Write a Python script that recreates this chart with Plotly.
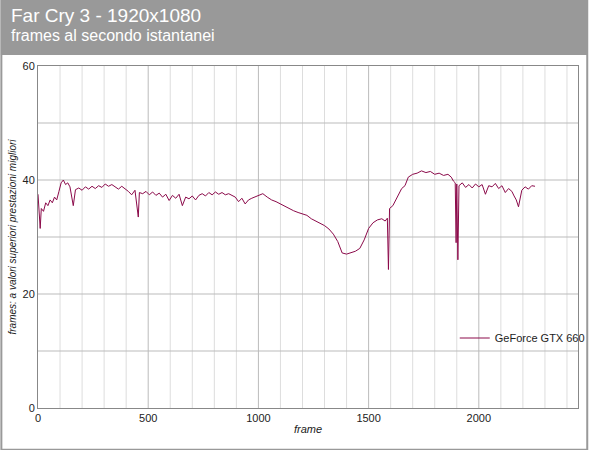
import plotly.graph_objects as go

frames = [0,5,10,15,25,35,45,55,65,75,85,95,105,115,125,135,145,160,170,185,200,215,230,245,260,275,290,305,320,335,350,365,380,395,410,425,440,455,460,475,490,505,520,535,550,565,580,595,610,625,640,655,670,685,700,715,730,745,760,775,790,805,820,835,850,865,880,895,910,925,940,955,970,985,1000,1020,1040,1060,1080,1100,1120,1140,1160,1180,1200,1220,1240,1260,1280,1300,1320,1340,1360,1370,1380,1400,1420,1440,1460,1480,1500,1520,1540,1560,1575,1585,1590,1595,1610,1630,1650,1665,1680,1700,1720,1740,1760,1780,1800,1820,1840,1860,1875,1885,1893,1897,1900,1905,1910,1925,1940,1955,1970,1985,2000,2015,2030,2045,2060,2075,2090,2105,2120,2135,2150,2160,2170,2180,2195,2210,2225,2240,2255]
fps = [37.5,34,31.5,35,34.5,36,35.5,36.5,36,37,36.5,38,39.5,40,39.2,39.5,38.8,35.5,38.3,38.6,38.2,38.8,38.4,38.9,38.5,39,38.7,39.3,38.9,39.2,38.8,38.4,38.9,38.5,38,37.4,38.2,33.5,37.8,37.6,38,37.4,37.9,37.3,37.7,37,37.5,36.4,37.3,36.8,37.5,35.5,37,36.7,37.2,36.5,37.3,37.6,37.2,37.8,37.4,37.9,37.5,37.8,37.4,37.6,37.3,37,36.2,36.8,35.8,36.5,36.8,37,37.3,37.6,37,36.5,36.2,35.8,35.3,35,34.6,34.3,34,33.8,33.2,32.8,32.4,32,31.4,30.5,29.2,28.2,27.2,27,27.3,27.5,28,29.5,31.5,32.5,33,33.2,32.8,33.3,24.3,35,35.5,37,38.5,39,40.5,41,41.2,41.6,41.3,41.5,41,41.2,40.8,41,40.5,39.8,39.5,29,39.3,26,39,39.5,38.7,39.2,38.6,39.3,38.8,39.2,37.5,39,38.8,39.4,38.5,39,37.8,38.5,38,37.2,36.5,35.3,38.2,38.8,38.4,39,38.9,39.3]

W, H, L, R, T, B = 600, 450, 38, 10, 66, 42
pw, ph = W - L - R, H - T - B

fig = go.Figure(go.Scatter(x=frames, y=fps, mode="lines", name="GeForce GTX 660",
                           line=dict(color="#8b0a4a", width=1)))
fig.update_layout(
    width=W, height=H, margin=dict(l=L, r=R, t=T, b=B),
    paper_bgcolor="white", plot_bgcolor="white", showlegend=True,
    font=dict(family="Liberation Sans, Arial", size=11, color="#222"),
    legend=dict(x=(464 - L) / pw, y=(408 - 338) / ph, xanchor="left", yanchor="middle",
                bgcolor="rgba(0,0,0,0)"),
    shapes=[dict(type="rect", xref="paper", yref="paper", x0=-L / pw, x1=1 + R / pw,
                 y0=1 + 11 / ph, y1=1 + T / ph, fillcolor="#999999", line_width=0, layer="below"),
            dict(type="rect", xref="paper", yref="paper", x0=-L / pw + 0.001, x1=1 + R / pw - 0.001,
                 y0=-B / ph + 0.001, y1=1 + T / ph, line=dict(color="#999999", width=2),
                 fillcolor="rgba(0,0,0,0)", layer="below")],
    annotations=[
        dict(text="Far Cry 3 - 1920x1080", xref="paper", yref="paper", x=-30 / pw, y=1 + 63 / ph,
             xanchor="left", yanchor="top", showarrow=False, font=dict(size=19, color="white")),
        dict(text="frames al secondo istantanei", xref="paper", yref="paper", x=-30 / pw, y=1 + 41 / ph,
             xanchor="left", yanchor="top", showarrow=False, font=dict(size=16, color="white")),
    ],
    xaxis=dict(range=[0, 2450], tickvals=[0, 500, 1000, 1500, 2000], showgrid=False, automargin=False,
               title=dict(text="<i>frame</i>", standoff=2, font=dict(size=11)),
               showline=True, linecolor="#888", mirror=True, zeroline=False),
    yaxis=dict(range=[0, 60], dtick=20, showgrid=False, automargin=False,
               title=dict(text="<i>frames: a valori superiori prestazioni migliori</i>", standoff=4, font=dict(size=10)),
               showline=True, linecolor="#888", mirror=True, zeroline=False),
)
for v in range(100, 2450, 100):
    fig.add_shape(type="line", x0=v, x1=v, y0=0, y1=60, layer="below",
                  line=dict(color="#bbbbbb" if v % 500 == 0 else "#dddddd", width=1))
for v in range(10, 60, 10):
    fig.add_shape(type="line", x0=0, x1=2450, y0=v, y1=v, layer="below",
                  line=dict(color="#bbbbbb", width=1))
fig.write_html("out.html", config={"displayModeBar": False},
               post_script="document.body.style.margin='0';document.body.style.padding='0';"
                           "document.body.style.overflow='hidden';document.documentElement.style.overflow='hidden';")
